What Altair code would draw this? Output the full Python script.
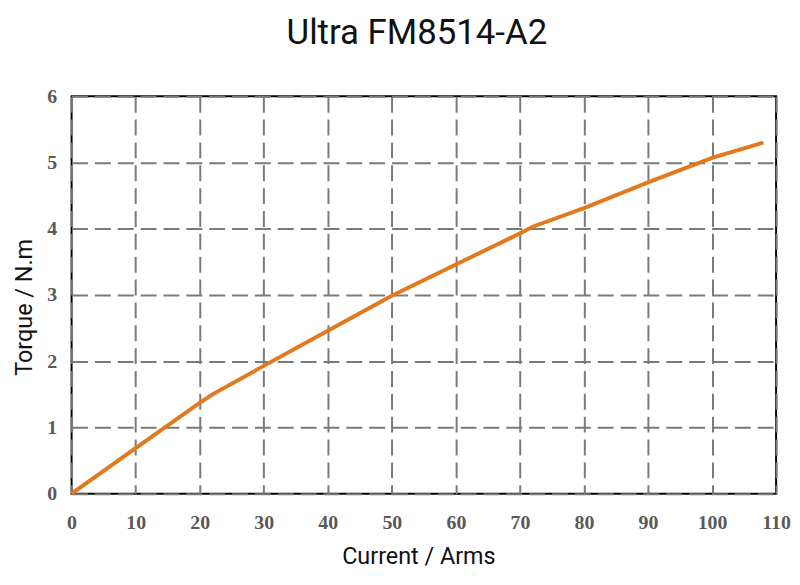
import altair as alt
import pandas as pd

current = [0, 10, 20, 22, 30, 40, 50, 60, 70, 72, 80, 90, 100, 108]
torque = [0, 0.69, 1.37, 1.5, 1.93, 2.46, 2.99, 3.46, 3.93, 4.03, 4.31, 4.70, 5.07, 5.30]
x_ticks = [0, 10, 20, 30, 40, 50, 60, 70, 80, 90, 100, 110]
y_ticks = [0, 1, 2, 3, 4, 5, 6]

df = pd.DataFrame({"current": current, "torque": torque})

label_style = dict(
    labelFont="Liberation Serif",
    labelFontWeight="bold",
    labelFontSize=20,
    labelColor="#595959",
    labelFlush=False,
    labelOverlap=False,
    titleFont="Roboto",
    titleFontWeight="normal",
    titleFontSize=23.5,
    titleColor="#111111",
    grid=True,
    gridColor="#7a7a7a",
    gridDash=[16, 7],
    gridWidth=2,
    ticks=False,
    domain=False,
)

chart = (
    alt.Chart(df)
    .mark_line(color="#E2791E", strokeWidth=4)
    .encode(
        x=alt.X(
            "current:Q",
            scale=alt.Scale(domain=[0, 110], nice=False, zero=True),
            axis=alt.Axis(
                title="Current / Arms",
                values=x_ticks,
                labelPadding=19,
                labelBaseline="top",
                titleBaseline="alphabetic",
                titleY=70,
                titleX=349,
                **label_style,
            ),
        ),
        y=alt.Y(
            "torque:Q",
            scale=alt.Scale(domain=[0, 6], nice=False),
            axis=alt.Axis(
                title="Torque / N.m",
                values=y_ticks,
                labelPadding=15,
                titleAngle=-90,
                titleAlign="center",
                titleBaseline="alphabetic",
                titleX=-40,
                titleY=212,
                **label_style,
            ),
        ),
    )
    .properties(
        width=709,
        height=400,
        autosize=alt.AutoSizeParams(type="none"),
        padding={"left": 64, "top": 87, "right": 16, "bottom": 82},
        title=alt.TitleParams(
            "Ultra FM8514-A2",
            font="Roboto",
            fontSize=35,
            fontWeight="normal",
            color="#111111",
            anchor="middle",
            frame="group",
            offset=36,
            baseline="bottom",
            dx=-7,
            dy=35,
        ),
    )
    .configure_view(stroke="#000000", strokeWidth=2)
)

chart.save("out.html", embed_options={"renderer": "svg", "actions": False})
